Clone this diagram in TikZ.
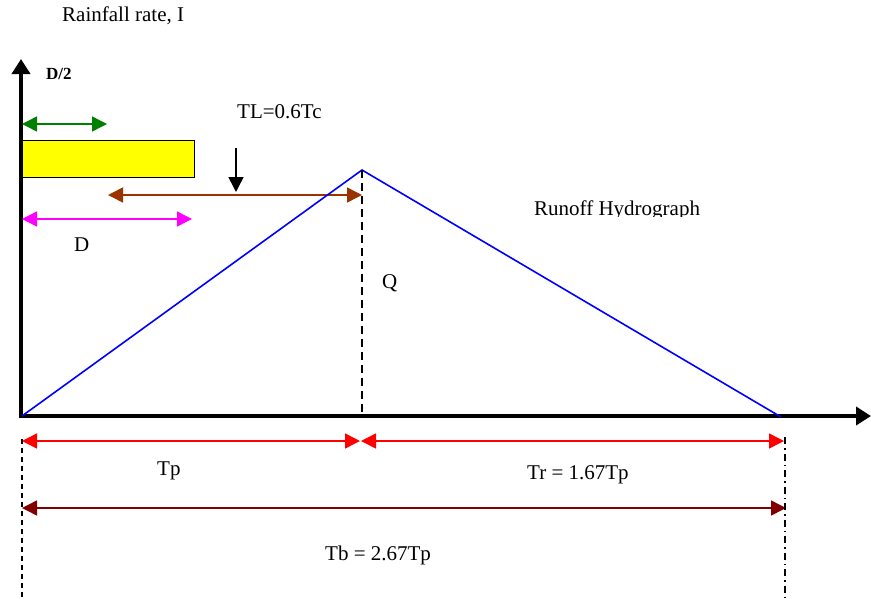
\documentclass[tikz,border=0pt]{standalone}
\usepackage{fontspec}
\setmainfont{Liberation Serif}
\usetikzlibrary{arrows.meta}
\definecolor{rgreen}{RGB}{0,128,0}
\definecolor{rbrown}{RGB}{153,51,0}
\definecolor{rmag}{RGB}{255,0,255}
\definecolor{rdark}{RGB}{128,0,0}
\definecolor{rred}{RGB}{255,0,0}
\definecolor{rblue}{RGB}{0,0,255}
\definecolor{ryellow}{RGB}{255,255,0}
\begin{document}
\begin{tikzpicture}[x=1pt,y=-1pt,
  axisline/.style={line width=4.5pt,-{Triangle[length=15pt,width=18pt]}},
  dimboth/.style={line width=1.5pt,{Triangle[length=15pt,width=15pt]}-{Triangle[length=15pt,width=15pt]}},
  dimone/.style={line width=1.5pt,-{Triangle[length=15pt,width=15pt]}},
  lbl/.style={anchor=base west,inner sep=0pt,font=\fontsize{21}{25}\selectfont},
  hydro/.style={rblue,line width=1.6pt,line join=miter}]
\useasboundingbox (0,0) rectangle (871,598);

% key points
\coordinate (O) at (22,416);
\coordinate (P) at (362,170);
\coordinate (E) at (781,417);
\coordinate (Pbase) at (362,416);
\coordinate (Ytop) at (21,59);
\coordinate (Ybot) at (21,418.25);
\coordinate (Xleft) at (18.75,416);
\coordinate (Xright) at (871,416);

% axes
\draw[axisline] (Ybot) -- (Ytop);
\draw[axisline] (Xleft) -- (Xright);

% rainfall block
\node (rain) [draw=black,line width=1pt,fill=ryellow,anchor=north west,minimum width=172pt,minimum height=37pt,inner sep=0pt] at (22,139.5) {};

% green D/2 arrow
\coordinate (g1) at (22,124);
\coordinate (g2) at (107,124);
\draw[dimboth,rgreen] (g1) -- (g2);

% brown TL arrow
\coordinate (b1) at (108,195);
\coordinate (b2) at (362,195);
\draw[dimboth,rbrown] (b1) -- (b2);

% magenta D arrow
\coordinate (m1) at (22,219);
\coordinate (m2) at (192,219);
\draw[dimboth,rmag] (m1) -- (m2);

% black down arrow
\coordinate (k1) at (236,148);
\coordinate (k2) at (236,192);
\draw[dimone,black] (k1) -- (k2);

% hydrograph
\draw[hydro] (O) -- (P) -- (E);
\draw[black,line width=1.5pt,dash pattern=on 8pt off 5pt] (P) -- (Pbase);

% time arrows
\coordinate (r1) at (22,441);
\coordinate (r2) at (360,441);
\coordinate (r3) at (361,441);
\coordinate (r4) at (784,441);
\draw[dimboth,rred] (r1) -- (r2);
\draw[dimboth,rred] (r3) -- (r4);
\coordinate (d1) at (22,508);
\coordinate (d2) at (786,508);
\draw[dimboth,rdark] (d1) -- (d2);

% vertical guides
\coordinate (vl1) at (22,439);
\coordinate (vl2) at (22,598);
\draw[black,line width=1.5pt,dash pattern=on 5pt off 4pt] (vl1) -- (vl2);
\coordinate (vr1) at (785,437);
\coordinate (vr2) at (785,598);
\draw[black,line width=1.5pt,dash pattern=on 7pt off 4pt on 1.5pt off 4pt] (vr1) -- (vr2);

% labels
\node[lbl] (lrain) at (62,21) {Rainfall rate, I};
\node[lbl,font=\fontsize{17}{20}\selectfont\bfseries] (ld2) at (46,79) {D/2};
\node[lbl] (ltl) at (237,118) {TL=0.6Tc};
\node[lbl] (ld) at (74,251) {D};
\node[lbl] (lq) at (382,288) {Q};
\begin{scope}
\clip (520,180) rectangle (720,216);
\node[lbl] (lrun) at (534,215) {Runoff Hydrograph};
\end{scope}
\node[lbl] (ltp) at (157,475) {Tp};
\node[lbl] (ltr) at (527,479) {Tr = 1.67Tp};
\node[lbl] (ltb) at (325,560) {Tb = 2.67Tp};
\end{tikzpicture}
\end{document}
